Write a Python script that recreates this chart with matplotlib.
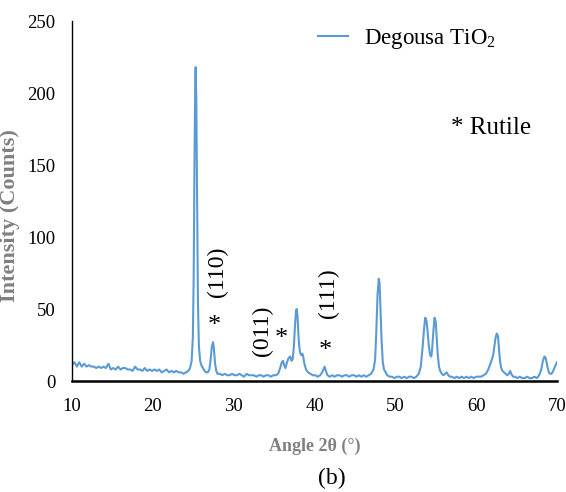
import matplotlib.pyplot as plt

plt.rcParams['font.family'] = ['Liberation Serif', 'DejaVu Serif']
plt.rcParams['mathtext.fontset'] = 'custom'
plt.rcParams['mathtext.rm'] = 'Liberation Serif'
plt.rcParams['mathtext.default'] = 'regular'

# XRD pattern (2-theta in degrees, intensity in counts)
angle = [
    10.0, 10.3, 10.6, 10.9, 11.2, 11.5, 11.8, 12.1, 12.4, 12.7, 13.0, 13.3,
    13.6, 13.9, 14.2, 14.5, 14.8, 15.1, 15.4, 15.7, 16.0, 16.3, 16.6, 16.9,
    17.2, 17.5, 17.8, 18.1, 18.4, 18.7, 19.0, 19.3, 19.6, 19.9, 20.2, 20.5,
    20.8, 21.1, 21.4, 21.7, 22.0, 22.3, 22.6, 22.9, 23.2, 23.5, 23.8, 24.1,
    24.4, 24.6, 24.8, 24.95, 25.05, 25.15, 25.25, 25.3, 25.38, 25.48, 25.58,
    25.7, 25.85, 26.0, 26.2, 26.4, 26.6, 26.8, 27.0, 27.15, 27.3, 27.45,
    27.55, 27.7, 27.85, 28.0, 28.3, 28.6, 28.9, 29.2, 29.5, 29.8, 30.1, 30.4,
    30.7, 31.0, 31.3, 31.6, 31.9, 32.2, 32.5, 32.8, 33.1, 33.4, 33.7, 34.0,
    34.3, 34.6, 34.9, 35.2, 35.5, 35.75, 35.95, 36.1, 36.25, 36.4, 36.6,
    36.8, 37.0, 37.15, 37.3, 37.45, 37.6, 37.72, 37.8, 37.9, 38.05, 38.2,
    38.35, 38.5, 38.6, 38.75, 38.95, 39.2, 39.5, 39.8, 40.1, 40.4, 40.7,
    40.95, 41.1, 41.25, 41.4, 41.6, 41.9, 42.2, 42.5, 42.8, 43.1, 43.4, 43.7,
    44.0, 44.3, 44.6, 44.9, 45.2, 45.5, 45.8, 46.1, 46.4, 46.7, 47.0, 47.3,
    47.5, 47.65, 47.8, 47.95, 48.05, 48.15, 48.3, 48.45, 48.6, 48.8, 49.0,
    49.3, 49.6, 49.9, 50.2, 50.5, 50.8, 51.1, 51.4, 51.7, 52.0, 52.3, 52.6,
    52.9, 53.15, 53.35, 53.55, 53.7, 53.85, 54.0, 54.15, 54.3, 54.45, 54.55,
    54.7, 54.85, 55.0, 55.1, 55.25, 55.4, 55.55, 55.75, 55.95, 56.15, 56.35,
    56.55, 56.75, 57.0, 57.3, 57.6, 57.9, 58.2, 58.5, 58.8, 59.1, 59.4, 59.7,
    60.0, 60.3, 60.6, 60.9, 61.2, 61.5, 61.75, 61.95, 62.1, 62.25, 62.4,
    62.55, 62.7, 62.8, 62.95, 63.1, 63.25, 63.45, 63.65, 63.85, 64.05, 64.2,
    64.35, 64.55, 64.8, 65.1, 65.4, 65.7, 66.0, 66.3, 66.6, 66.9, 67.2, 67.5,
    67.8, 68.05, 68.25, 68.45, 68.6, 68.75, 68.85, 69.0, 69.15, 69.3, 69.45,
    69.6, 69.75, 69.9, 70.0,
]
intensity = [
    11, 13, 10, 13, 10, 12, 10, 11, 10, 10, 9, 10,
    9, 10, 9, 12, 8, 9, 8, 10, 8, 9, 9, 8,
    8, 7, 10, 8, 8, 7, 9, 7, 8, 7, 8, 7,
    8, 6, 7, 8, 6, 7, 6, 7, 6, 6, 5, 6,
    7, 9, 14, 30, 70, 150, 210, 218, 195, 120, 55,
    24, 14, 11, 9, 7, 6, 6, 8, 15, 24, 27,
    23, 12, 7, 5, 5, 4, 5, 4, 4, 5, 4, 4,
    5, 4, 3, 5, 4, 4, 4, 3, 4, 4, 3, 4,
    4, 3, 4, 4, 5, 9, 13, 14, 11, 9, 13,
    16, 17, 14, 15, 24, 40, 49, 50, 45, 28, 20,
    18, 19, 17, 12, 8, 6, 5, 4, 4, 3, 4,
    6, 8, 10, 7, 4, 3, 4, 3, 4, 4, 3, 4,
    4, 3, 4, 4, 3, 4, 3, 4, 3, 4, 5, 8,
    15, 35, 60, 71, 68, 52, 28, 13, 8, 6, 4,
    3, 3, 2, 3, 3, 2, 3, 2, 3, 3, 2, 3,
    5, 10, 22, 36, 44, 42, 34, 24, 18, 17, 22,
    34, 44, 41, 32, 18, 10, 7, 5, 4, 5, 6,
    4, 3, 3, 2, 3, 2, 3, 2, 3, 2, 3, 2,
    3, 3, 3, 4, 5, 8, 12, 15, 18, 24, 30,
    33, 31, 24, 14, 9, 7, 6, 5, 4, 5, 7,
    5, 3, 3, 2, 3, 2, 2, 3, 2, 2, 3, 2,
    4, 8, 14, 17, 16, 12, 9, 6, 5, 5, 6,
    8, 10, 12, 13,
]

x_ticks = [10, 20, 30, 40, 50, 60, 70]
y_ticks = [0, 50, 100, 150, 200, 250]

# rutile reflections: label text and where the label / star sit (data coords)
rutile_labels = ["(110)", "(011)", "(111)"]
label_x = [28.0, 33.6, 41.7]
label_y = [76, 35, 61]
star_x = [27.6, 35.9, 41.3]
star_y = [38, 29, 20.5]

line_color = "#5B9BD5"
gray = "#808080"

fig = plt.figure(figsize=(5.66, 4.92), dpi=100)
ax = fig.add_axes([72 / 566, 1 - 381 / 492, 485 / 566, 360 / 492])

ax.plot(angle, intensity, color=line_color, lw=1.5, label="Degousa TiO$_2$")

ax.set_xlim(10, 70)
ax.set_ylim(0, 250)
ax.set_xticks(x_ticks)
ax.set_yticks(y_ticks)
ax.tick_params(length=0, labelsize=13.5)
ax.tick_params(axis="y", pad=12)
ax.tick_params(axis="x", pad=12)

for side in ("top", "right"):
    ax.spines[side].set_visible(False)
ax.spines["left"].set_linewidth(1.0)
ax.spines["bottom"].set_linewidth(1.8)

ax.set_xlabel("Angle 2θ (°)", fontsize=13, fontweight="bold", color=gray)
ax.xaxis.set_label_coords(0.5, -0.158)
ax.set_ylabel("Intensity (Counts)", fontsize=16, fontweight="bold", color=gray)
ax.yaxis.set_label_coords(-0.107, 0.46)

for lab, lx, ly, sx, sy in zip(rutile_labels, label_x, label_y, star_x, star_y):
    ax.text(lx, ly, lab, rotation=90, ha="center", va="center", fontsize=17)
    ax.text(sx, sy, "*", ha="center", va="center", fontsize=19)

ax.legend(loc="center left", bbox_to_anchor=(0.507, 0.95), frameon=False,
          fontsize=16.5, handlelength=1.3, handletextpad=0.7,
          borderpad=0, borderaxespad=0)
ax.text(0.781, 0.703, "* Rutile", transform=ax.transAxes, ha="left",
        va="center", fontsize=18)

fig.text(332 / 566, 1 - 478 / 492, "(b)", ha="center", va="center", fontsize=17)

fig.savefig("out.png", dpi=100)
